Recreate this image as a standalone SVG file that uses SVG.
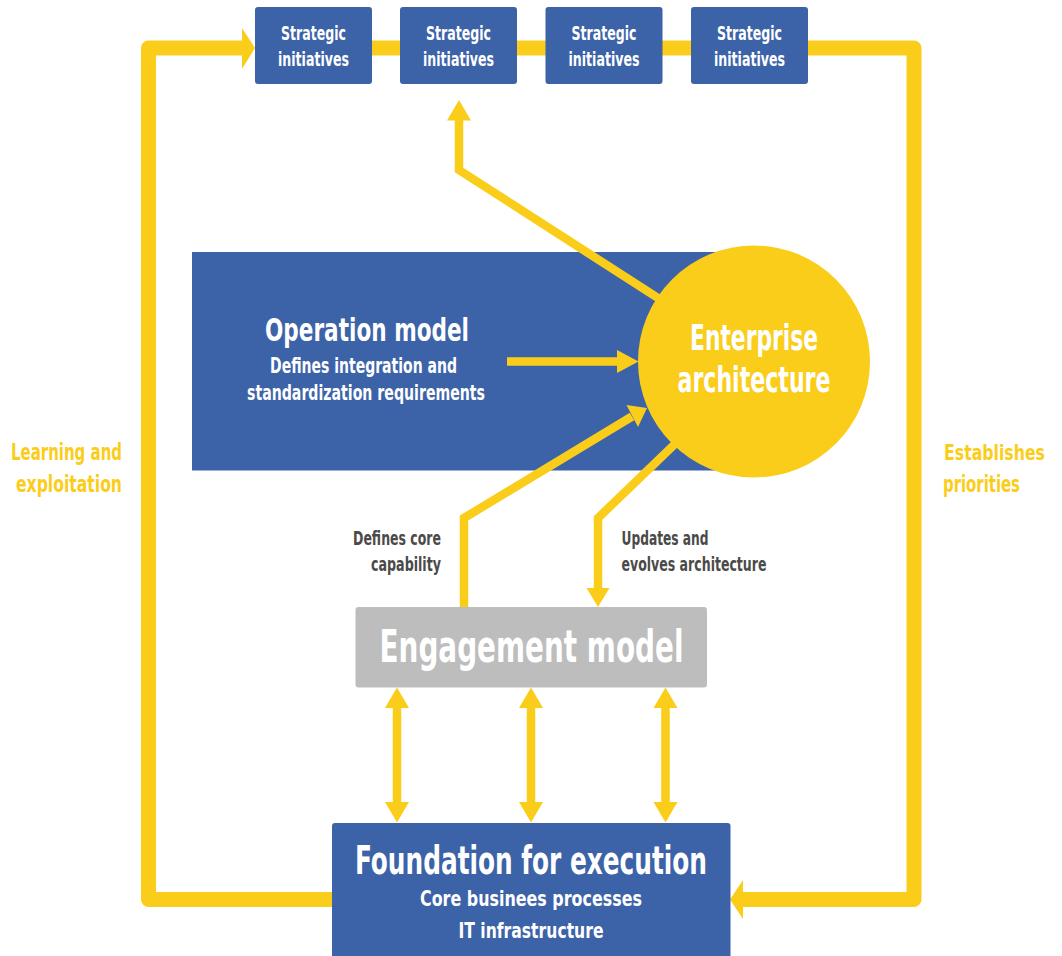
<svg xmlns="http://www.w3.org/2000/svg" width="1062" height="956" viewBox="0 0 1062 956">
  <style>
    text { font-family: "Liberation Sans Narrow", "DejaVu Sans Condensed", "Liberation Sans", sans-serif; font-weight: bold; }
    .w { fill: #ffffff; }
    .y { fill: #FBCD1B; }
    .d { fill: #4A4A4A; }
    .blue { fill: #3C63A8; }
    .loop { fill: none; stroke: #FBCD1B; stroke-width: 15; stroke-linejoin: round; }
    .conn { fill: none; stroke: #FBCD1B; stroke-width: 8.5; stroke-linejoin: miter; }
    .head { fill: #FBCD1B; }
    .si { font-size: 19px; }
  </style>
  <rect width="1062" height="956" fill="#ffffff"/>

  <!-- loop background connectors -->
  <g id="loops">
    <path class="loop" d="M 340 899.5 H 148.5 V 48 H 244"/>
    <polygon class="head" points="242,28 255,48 242,69"/>
    <path class="loop" d="M 372 48 H 400 M 516 48 H 546 M 662 48 H 691"/>
    <path class="loop" d="M 800 48 H 914 V 899.5 H 741"/>
    <polygon class="head" points="743,880 730,899.5 743,919"/>
  </g>

  <g id="strategic1">
    <rect class="blue" x="255" y="7" width="117" height="77" rx="3"/>
    <text class="w si" x="313.5" y="40" text-anchor="middle" textLength="65" lengthAdjust="spacingAndGlyphs">Strategic</text>
    <text class="w si" x="313.5" y="65.5" text-anchor="middle" textLength="71" lengthAdjust="spacingAndGlyphs">initiatives</text>
  </g>
  <g id="strategic2">
    <rect class="blue" x="400" y="7" width="117" height="77" rx="3"/>
    <text class="w si" x="458.5" y="40" text-anchor="middle" textLength="65" lengthAdjust="spacingAndGlyphs">Strategic</text>
    <text class="w si" x="458.5" y="65.5" text-anchor="middle" textLength="71" lengthAdjust="spacingAndGlyphs">initiatives</text>
  </g>
  <g id="strategic3">
    <rect class="blue" x="545.5" y="7" width="117" height="77" rx="3"/>
    <text class="w si" x="604" y="40" text-anchor="middle" textLength="65" lengthAdjust="spacingAndGlyphs">Strategic</text>
    <text class="w si" x="604" y="65.5" text-anchor="middle" textLength="71" lengthAdjust="spacingAndGlyphs">initiatives</text>
  </g>
  <g id="strategic4">
    <rect class="blue" x="691" y="7" width="117" height="77" rx="3"/>
    <text class="w si" x="749.5" y="40" text-anchor="middle" textLength="65" lengthAdjust="spacingAndGlyphs">Strategic</text>
    <text class="w si" x="749.5" y="65.5" text-anchor="middle" textLength="71" lengthAdjust="spacingAndGlyphs">initiatives</text>
  </g>

  <g id="operation-model">
    <rect class="blue" x="192" y="252" width="530" height="218.5"/>
    <text class="w" x="367" y="341" font-size="32" text-anchor="middle" textLength="204" lengthAdjust="spacingAndGlyphs">Operation model</text>
    <text class="w" x="363.5" y="373" font-size="21" text-anchor="middle" textLength="187" lengthAdjust="spacingAndGlyphs">Defines integration and</text>
    <text class="w" x="366" y="400" font-size="21" text-anchor="middle" textLength="238" lengthAdjust="spacingAndGlyphs">standardization requirements</text>
  </g>

  <g id="enterprise-architecture">
    <circle cx="754" cy="361.5" r="116" fill="#FBCD1B"/>
    <text class="w" x="754" y="350" font-size="35" text-anchor="middle" textLength="128" lengthAdjust="spacingAndGlyphs">Enterprise</text>
    <text class="w" x="754" y="392" font-size="35" text-anchor="middle" textLength="153" lengthAdjust="spacingAndGlyphs">architecture</text>
  </g>

  <g id="engagement-model">
    <rect x="355.5" y="607" width="351.5" height="80.5" rx="3" fill="#BDBDBD"/>
    <text class="w" x="531.5" y="662" font-size="44" text-anchor="middle" textLength="304" lengthAdjust="spacingAndGlyphs">Engagement model</text>
  </g>

  <g id="foundation">
    <rect class="blue" x="332" y="823" width="398.5" height="140" rx="3"/>
    <text class="w" x="531" y="874" font-size="39" text-anchor="middle" textLength="352" lengthAdjust="spacingAndGlyphs">Foundation for execution</text>
    <text class="w" x="531" y="906" font-size="22" text-anchor="middle" textLength="222" lengthAdjust="spacingAndGlyphs">Core businees processes</text>
    <text class="w" x="531" y="938" font-size="22" text-anchor="middle" textLength="145" lengthAdjust="spacingAndGlyphs">IT infrastructure</text>
  </g>

  <g id="connectors">
    <!-- EA to strategic initiatives -->
    <path class="conn" d="M 658 298 L 459 170 V 118"/>
    <polygon class="head" points="447,120.5 459,100 471,120.5"/>
    <!-- operation model to EA -->
    <path class="conn" d="M 507 361.5 H 619"/>
    <polygon class="head" points="617,350 638.5,361.5 617,373"/>
    <!-- defines core capability -->
    <path class="conn" d="M 464 607 V 518 L 632 416.5"/>
    <polygon class="head" points="626.5,405 647,408 638,427"/>
    <!-- updates and evolves -->
    <path class="conn" d="M 676 443 L 598 518 V 590"/>
    <polygon class="head" points="586.5,588 598,607 609.5,588"/>
    <!-- engagement <-> foundation -->
    <path class="conn" d="M 397 705 V 805 M 531 705 V 805 M 665.5 705 V 805"/>
    <polygon class="head" points="385,708 397,687.5 409,708"/>
    <polygon class="head" points="385,802 397,822.5 409,802"/>
    <polygon class="head" points="519,708 531,687.5 543,708"/>
    <polygon class="head" points="519,802 531,822.5 543,802"/>
    <polygon class="head" points="653.5,708 665.5,687.5 677.5,708"/>
    <polygon class="head" points="653.5,802 665.5,822.5 677.5,802"/>
  </g>

  <g id="labels">
    <text class="d" x="441" y="545" font-size="19" text-anchor="end" textLength="88" lengthAdjust="spacingAndGlyphs">Defines core</text>
    <text class="d" x="441" y="571" font-size="19" text-anchor="end" textLength="70" lengthAdjust="spacingAndGlyphs">capability</text>
    <text class="d" x="621.5" y="545" font-size="19" textLength="87" lengthAdjust="spacingAndGlyphs">Updates and</text>
    <text class="d" x="621.5" y="571" font-size="19" textLength="145" lengthAdjust="spacingAndGlyphs">evolves architecture</text>
    <text class="y" x="122" y="460" font-size="23" text-anchor="end" textLength="111" lengthAdjust="spacingAndGlyphs">Learning and</text>
    <text class="y" x="122" y="492" font-size="23" text-anchor="end" textLength="106" lengthAdjust="spacingAndGlyphs">exploitation</text>
    <text class="y" x="1045" y="460" font-size="22" text-anchor="end" textLength="101" lengthAdjust="spacingAndGlyphs">Establishes</text>
    <text class="y" x="943" y="492" font-size="23" textLength="77" lengthAdjust="spacingAndGlyphs">priorities</text>
  </g>
</svg>
